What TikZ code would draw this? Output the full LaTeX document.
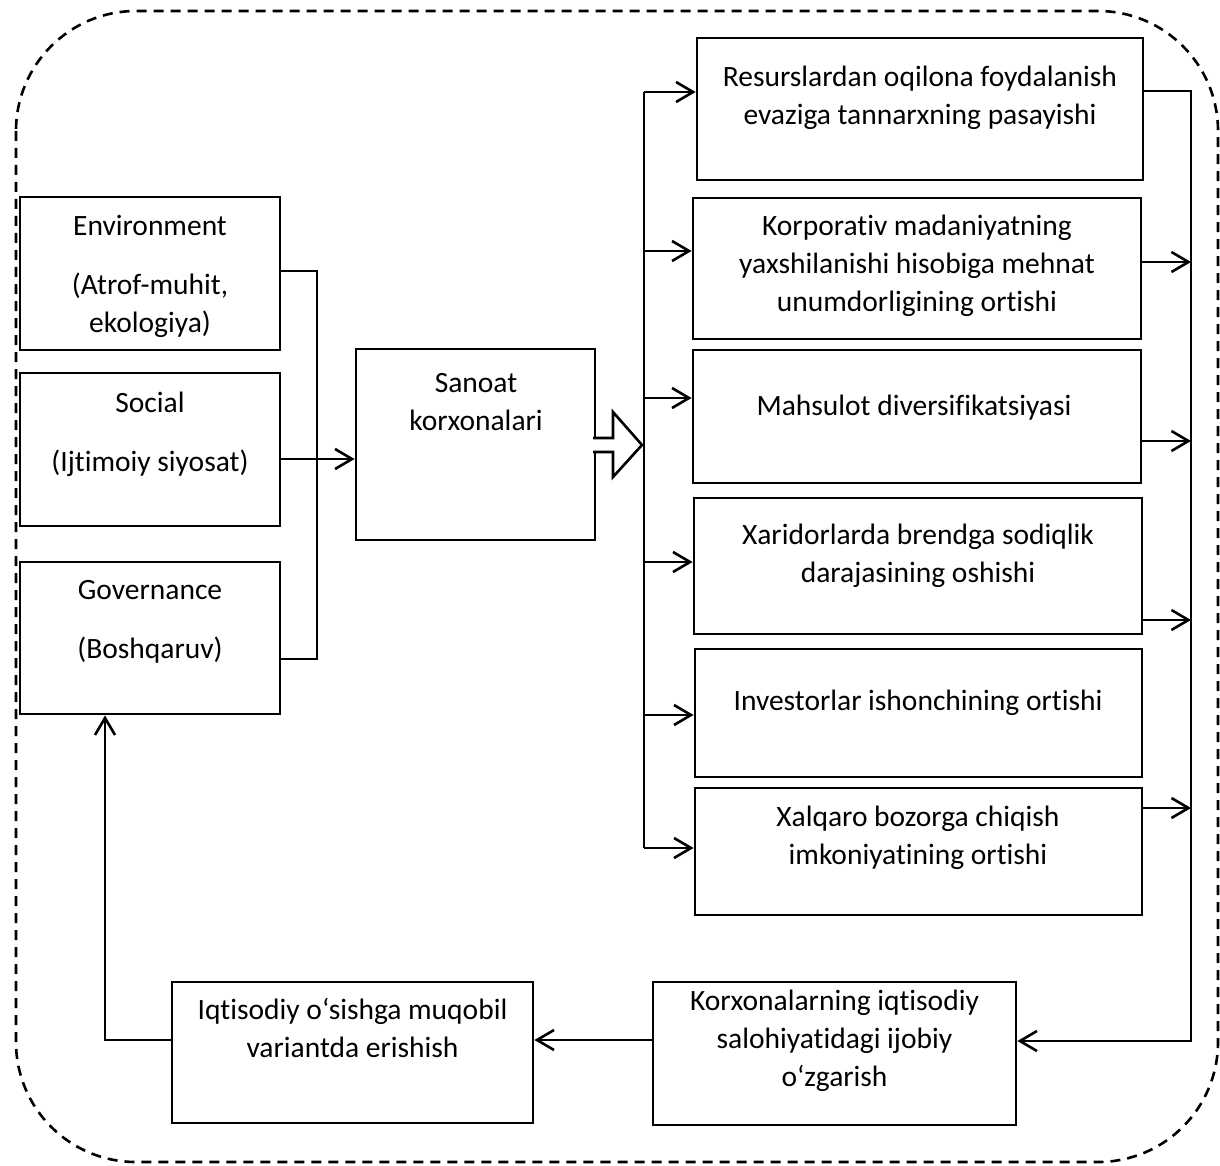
\documentclass[tikz,border=0pt]{standalone}
\usepackage{fontspec}
\setmainfont{Carlito}[Ligatures=NoCommon]
\usetikzlibrary{arrows.meta}

\begin{document}
\begin{tikzpicture}[
	x=0.5pt, y=-0.5pt,
	box/.style={draw,line width=1.4pt,inner sep=0pt},
	txt/.style={align=center,inner sep=0pt,font=\fontsize{14.75pt}{19pt}\selectfont},
	conn/.style={line width=1.3pt},
	arr/.style={conn,-{Straight Barb[length=8.5pt,width=10pt]}},
	frame/.style={line width=1.3pt,dash pattern=on 5pt off 3.5pt,rounded corners=60pt}
	]
	\useasboundingbox (0,0) rectangle (1220,1166);
	\draw[frame] (16,11) rectangle (1218,1162);
	\foreach \n/\x/\y/\w/\h in {env/150/273.5/130/76.5,soc/150/449.5/130/76.5,gov/150/638/130/76,
		san/475.5/444.5/119.5/95.5,r1/920/109/223/71,r2/917/268.5/224/70.5,r3/917/416.5/224/66.5,
		r4/918/566/224/68,r5/918.5/713/223.5/64,r6/918.5/851.5/223.5/63.5,
		korx/834.5/1053.5/181.5/71.5,iqt/352.5/1052.5/180.5/70.5}{
		\node[box,minimum width=\w pt,minimum height=\h pt] (\n) at (\x,\y) {};
	}
	\node[txt] (envt) at (150,276.5) {Environment\\[10.5pt](Atrof-muhit,\\ekologiya)};
	\node[txt] (soct) at (150,434.5) {Social\\[10.5pt](Ijtimoiy siyosat)};
	\node[txt] (govt) at (150,622) {Governance\\[10.5pt](Boshqaruv)};
	\node[txt] (sant) at (476,402) {Sanoat\\korxonalari};
	\node[txt] (r1t) at (920,98) {Resurslardan oqilona foydalanish\\evaziga tannarxning pasayishi};
	\node[txt] (r2t) at (917,266) {Korporativ madaniyatning\\yaxshilanishi hisobiga mehnat\\unumdorligining ortishi};
	\node[txt] (r3t) at (914,408) {Mahsulot diversifikatsiyasi};
	\node[txt] (r4t) at (918,556) {Xaridorlarda brendga sodiqlik\\darajasining oshishi};
	\node[txt] (r5t) at (918,703) {Investorlar ishonchining ortishi};
	\node[txt] (r6t) at (918,838) {Xalqaro bozorga chiqish\\imkoniyatining ortishi};
	\node[txt] (korxt) at (834.5,1041) {Korxonalarning iqtisodiy\\salohiyatidagi ijobiy\\o‘zgarish};
	\node[txt] (iqtt) at (352.5,1027.5) {Iqtisodiy o‘sishga muqobil\\variantda erishish};
	\coordinate (jn) at (317,459);
	\coordinate (lb) at (644,445);
	\coordinate (rb) at (1191,91);
	\draw[conn] (env.east |- 0,271) -| (jn) |- (gov.east |- 0,659);
	\draw[arr] (soc.east |- 0,459) -- (san.west |- 0,459);
	\draw[conn,fill=white] (593,438) -- (613,438) -- (613,412) -- (642,445) -- (613,477) -- (613,452) -- (593,452);
	\draw[conn] (lb |- 0,92) -- (lb |- 0,848);
	\foreach \b/\y in {r1/92,r2/251,r3/398,r4/562,r5/715,r6/848}{
		\draw[arr] (lb |- 0,\y) -- (\b.west |- 0,\y);
	}
	\draw[arr] (r1.east |- 0,91) -| (rb |- 0,1041) -- (korx.east |- 0,1041);
	\foreach \b/\y in {r2/262,r3/441,r4/620,r6/808}{
		\draw[arr] (\b.east |- 0,\y) -- (rb |- 0,\y);
	}
	\draw[arr] (korx.west |- 0,1040) -- (iqt.east |- 0,1040);
	\draw[arr] (iqt.west |- 0,1040) -| (gov.south -| 105,0);
\end{tikzpicture}
\end{document}
